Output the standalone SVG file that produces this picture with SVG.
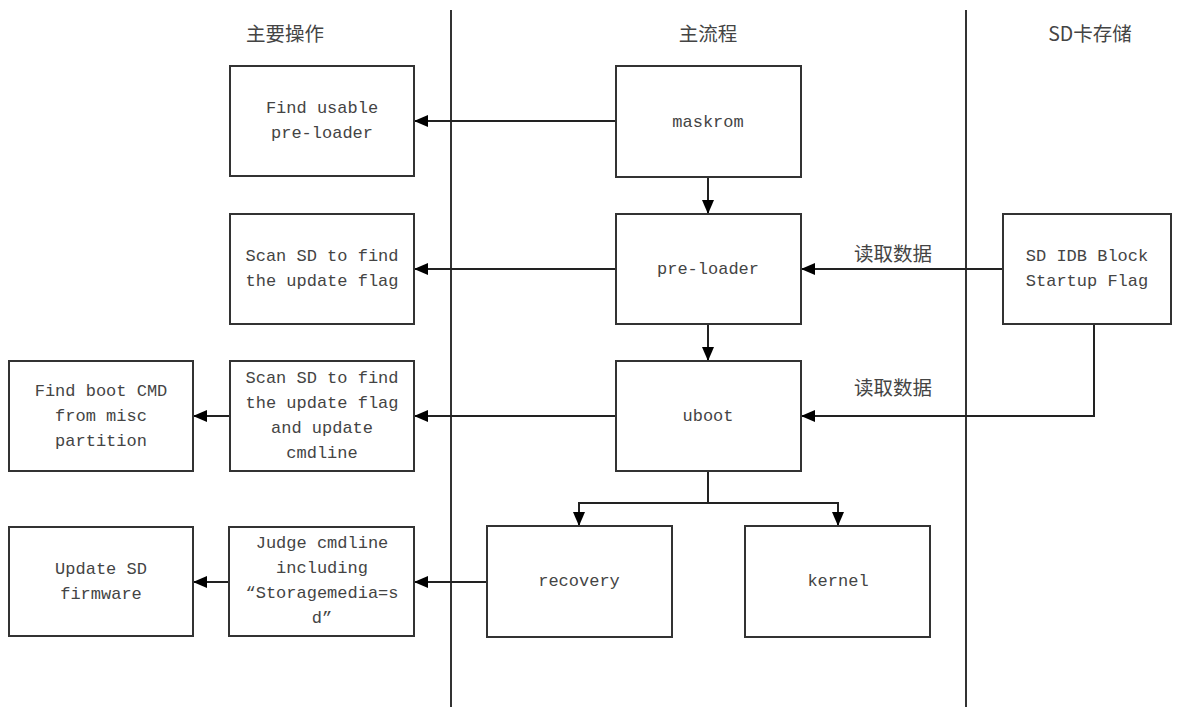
<svg xmlns="http://www.w3.org/2000/svg" width="1186" height="707" viewBox="0 0 1186 707">
<style>
.box{fill:#fff;stroke:#333;stroke-width:2}
.t{font-family:"Liberation Mono",monospace;font-size:17px;fill:#444;text-anchor:middle;dominant-baseline:central}
.h{font-family:"Noto Sans CJK SC",sans-serif;font-size:19.5px;fill:#444;text-anchor:middle;dominant-baseline:central}
.ln{fill:none;stroke:#222;stroke-width:2}
.lane{stroke:#333;stroke-width:2}
</style>
<defs>
<marker id="ah" markerWidth="14" markerHeight="12" refX="13" refY="6" orient="auto" markerUnits="userSpaceOnUse">
<path d="M0,0 L14,6 L0,12 Z" fill="#000"/>
</marker>
</defs>
<g id="lanes">
<line class="lane" x1="451" y1="10" x2="451" y2="707"/>
<line class="lane" x1="966" y1="10" x2="966" y2="707"/>
<text class="h" x="285" y="32">主要操作</text>
<text class="h" x="708" y="32">主流程</text>
<text class="h" x="1090" y="32">SD卡存储</text>
</g>
<g id="connectors">
<line class="ln" x1="616" y1="121" x2="415" y2="121" marker-end="url(#ah)"/>
<line class="ln" x1="708" y1="177" x2="708" y2="213" marker-end="url(#ah)"/>
<line class="ln" x1="616" y1="269" x2="415" y2="269" marker-end="url(#ah)"/>
<line class="ln" x1="1003" y1="269" x2="802" y2="269" marker-end="url(#ah)"/>
<text class="h" x="893" y="252">读取数据</text>
<line class="ln" x1="708" y1="324" x2="708" y2="360" marker-end="url(#ah)"/>
<polyline class="ln" points="1094,324 1094,416 802,416" marker-end="url(#ah)"/>
<text class="h" x="893" y="386">读取数据</text>
<line class="ln" x1="616" y1="416" x2="415" y2="416" marker-end="url(#ah)"/>
<line class="ln" x1="230" y1="416" x2="194" y2="416" marker-end="url(#ah)"/>
<line class="ln" x1="708" y1="471" x2="708" y2="503"/>
<polyline class="ln" points="708,503 579,503 579,525" marker-end="url(#ah)"/>
<polyline class="ln" points="708,503 838,503 838,525" marker-end="url(#ah)"/>
<line class="ln" x1="487" y1="582" x2="415" y2="582" marker-end="url(#ah)"/>
<line class="ln" x1="229" y1="582" x2="194" y2="582" marker-end="url(#ah)"/>
</g>
<g id="find-usable">
<rect class="box" x="230" y="66" width="184" height="110"/>
<text class="t" x="322" y="108">Find usable</text>
<text class="t" x="322" y="133">pre-loader</text>
</g>
<g id="maskrom">
<rect class="box" x="616" y="66" width="185" height="111"/>
<text class="t" x="708" y="122">maskrom</text>
</g>
<g id="scan-sd">
<rect class="box" x="230" y="214" width="184" height="110"/>
<text class="t" x="322" y="256">Scan SD to find</text>
<text class="t" x="322" y="281">the update flag</text>
</g>
<g id="pre-loader">
<rect class="box" x="616" y="214" width="185" height="110"/>
<text class="t" x="708" y="269">pre-loader</text>
</g>
<g id="sd-idb">
<rect class="box" x="1003" y="214" width="168" height="110"/>
<text class="t" x="1087" y="256">SD IDB Block</text>
<text class="t" x="1087" y="281">Startup Flag</text>
</g>
<g id="find-boot">
<rect class="box" x="9" y="361" width="184" height="110"/>
<text class="t" x="101" y="391">Find boot CMD</text>
<text class="t" x="101" y="416">from misc</text>
<text class="t" x="101" y="441">partition</text>
</g>
<g id="scan-sd-cmdline">
<rect class="box" x="230" y="361" width="184" height="110"/>
<text class="t" x="322" y="378">Scan SD to find</text>
<text class="t" x="322" y="403">the update flag</text>
<text class="t" x="322" y="428">and update</text>
<text class="t" x="322" y="453">cmdline</text>
</g>
<g id="uboot">
<rect class="box" x="616" y="361" width="185" height="110"/>
<text class="t" x="708" y="416">uboot</text>
</g>
<g id="update-sd">
<rect class="box" x="9" y="527" width="184" height="109"/>
<text class="t" x="101" y="569">Update SD</text>
<text class="t" x="101" y="594">firmware</text>
</g>
<g id="judge">
<rect class="box" x="229" y="527" width="185" height="109"/>
<text class="t" x="322" y="543">Judge cmdline</text>
<text class="t" x="322" y="568">including</text>
<text class="t" x="322" y="593">“Storagemedia=s</text>
<text class="t" x="322" y="618">d”</text>
</g>
<g id="recovery">
<rect class="box" x="487" y="526" width="185" height="111"/>
<text class="t" x="579" y="581">recovery</text>
</g>
<g id="kernel">
<rect class="box" x="745" y="526" width="185" height="111"/>
<text class="t" x="838" y="581">kernel</text>
</g>
</svg>
